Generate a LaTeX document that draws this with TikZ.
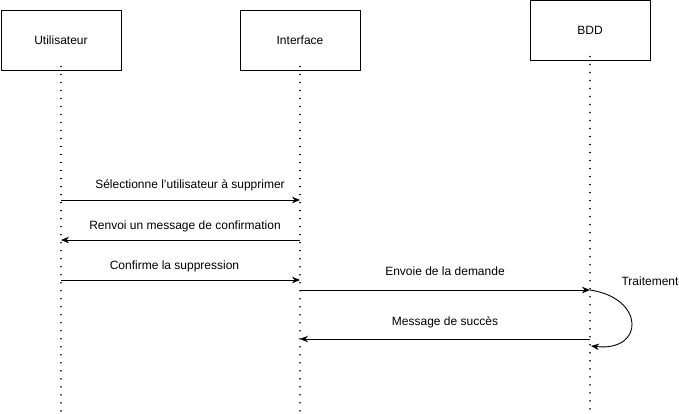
\documentclass[tikz,border=0pt]{standalone}
\usepackage{fontspec}
\setmainfont{Liberation Sans}
\usetikzlibrary{arrows.meta}
\begin{document}
\begin{tikzpicture}[x=1pt,y=-1pt,
  actor/.style={draw=black,line width=0.9pt,minimum width=120pt,minimum height=60pt,inner sep=0pt,font=\fontsize{12}{14}\selectfont},
  life/.style={line width=1.6pt,dash pattern=on 0.01pt off 8pt,line cap=round},
  msg/.style={line width=0.9pt,-{Stealth[length=8pt,width=6.5pt]}},
  lbl/.style={font=\fontsize{12}{14}\selectfont,inner sep=0pt}]
\useasboundingbox (0,0) rectangle (679,413);
\node[actor] (u) at (61,40) {Utilisateur};
\node[actor] (i) at (300,40) {Interface};
\node[actor] (b) at (590,30) {BDD};
\coordinate (ue) at (61,413);
\coordinate (ie) at (300,413);
\coordinate (be) at (590,413);
\draw[life] ([yshift=4pt]u.south) -- (ue);
\draw[life] ([yshift=4pt]i.south) -- (ie);
\draw[life] ([yshift=4pt]b.south) -- (be);
% messages
\coordinate (u1) at (61,200); \coordinate (i1) at (300,200);
\coordinate (u2) at (61,240); \coordinate (i2) at (300,240);
\coordinate (u3) at (61,280); \coordinate (i3) at (300,280);
\coordinate (i4) at (300,290); \coordinate (b4) at (590,290);
\coordinate (i5) at (300,339); \coordinate (b5) at (590,339);
\coordinate (b6) at (591,346);
\draw[msg] (u1) -- (i1);
\draw[msg] (i2) -- (u2);
\draw[msg] (u3) -- (i3);
\draw[msg] (i4) -- (b4);
\draw[msg] (b5) -- (i5);
\draw[msg] (b4) .. controls (645,298) and (645,352) .. (b6);
\node[lbl] (t1) at (190,185) {Sélectionne l'utilisateur à supprimer};
\node[lbl] (t2) at (185,226) {Renvoi un message de confirmation};
\node[lbl] (t3) at (174.5,266) {Confirme la suppression};
\node[lbl] (t4) at (445,271) {Envoie de la demande};
\node[lbl] (t5) at (445,322) {Message de succès};
\node[lbl] (t6) at (650,281) {Traitement};
\end{tikzpicture}
\end{document}
